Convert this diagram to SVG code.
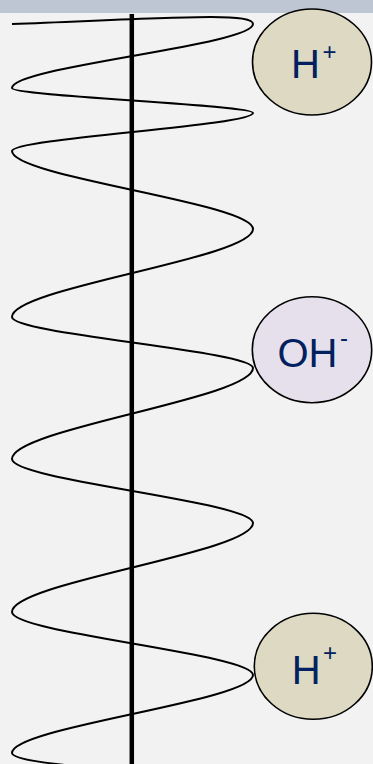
<svg xmlns="http://www.w3.org/2000/svg" width="373" height="764" viewBox="0 0 373 764">
<style>
.ion{stroke:#000;stroke-width:1.6}
.lbl{font-family:"Liberation Sans",Arial,sans-serif;fill:#002060}
.big{font-size:40px}
.sup{font-size:24px}
</style>
<rect x="0" y="0" width="373" height="764" fill="#f2f2f2"/>
<rect x="0" y="0" width="373" height="13" fill="#bec5d3"/>
<g id="connectors" fill="none" stroke="#000">
<line x1="131.8" y1="14" x2="131.8" y2="764" stroke-width="4.5"/>
<path stroke-width="2" d="M12 24 C170 18 253 12 253 24 C253 45.3 12 66.7 12 88 C12 96.3 253 104.7 253 113 C253 125.7 12 138.3 12 151 C12 177 253 203 253 229 C253 258.3 12 287.7 12 317 C12 334 253 351 253 368 C253 398.3 12 428.7 12 459 C12 480.3 253 501.7 253 523 C253 552.7 12 582.3 12 612 C12 633 253 654 253 675 C253 701 12 727 12 753 C12 762 80 766 200 780"/>
</g>
<g id="h-plus-1">
<ellipse class="ion" cx="312" cy="62" rx="59.5" ry="53" fill="#ddd9c3"/>
<text class="lbl"><tspan class="big" x="291" y="78.3">H</tspan><tspan class="sup" x="322.5" y="60">+</tspan></text>
</g>
<g id="oh-minus">
<ellipse class="ion" cx="312" cy="349.7" rx="59.7" ry="53" fill="#e6e0ec"/>
<text class="lbl"><tspan class="big" x="277.4" y="367.3">OH</tspan><tspan class="sup" x="340" y="346" font-size="26">-</tspan></text>
</g>
<g id="h-plus-2">
<ellipse class="ion" cx="313.3" cy="666.3" rx="59" ry="53" fill="#ddd9c3"/>
<text class="lbl"><tspan class="big" x="291.8" y="684">H</tspan><tspan class="sup" x="323" y="661">+</tspan></text>
</g>
</svg>
